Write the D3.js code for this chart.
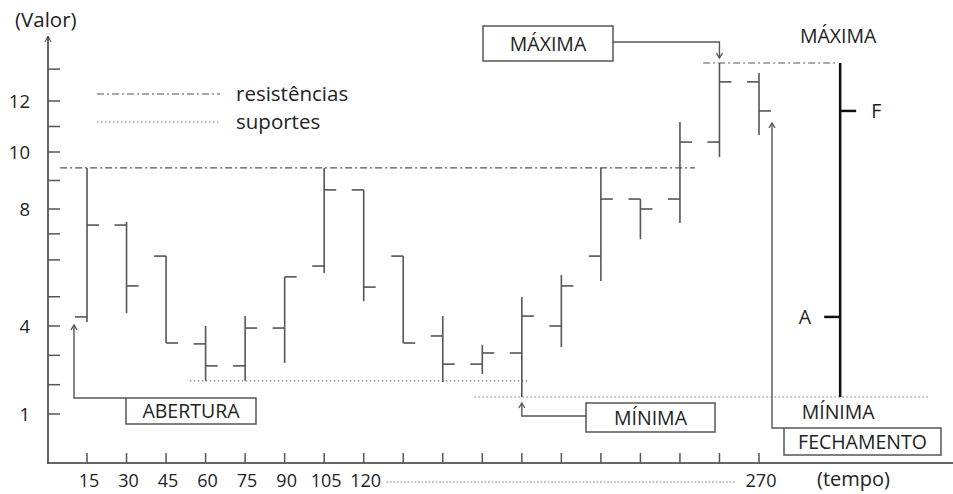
<!DOCTYPE html>
<html>
<head>
<meta charset="utf-8">
<script src="https://cdn.jsdelivr.net/npm/d3@7"></script>
<style>
  body { margin: 0; background: #fff; }
  svg text { font-family: "Open Sans", "DejaVu Sans", sans-serif; fill: #222; }
</style>
</head>
<body>
<div id="chart"></div>
<script>
// Bar chart (OHLC) data
const times  = [15, 30, 45, 60, 75, 90, 105, 120, 135, 150, 165, 180, 195, 210, 225, 240, 255, 270];
const opens  = [4.31, 7.45, 6.39, 3.39, 2.64, 3.93, 6.05, 8.67, 6.39, 3.66, 2.70, 3.08, 4.00, 6.39, 8.35, 8.35, 10.39, 12.75];
const highs  = [9.44, 7.56, 6.39, 4.00, 4.34, 5.68, 9.44, 8.67, 6.39, 4.34, 3.35, 4.99, 5.74, 9.44, 8.35, 11.18, 13.49, 13.10];
const lows   = [4.14, 4.44, 3.42, 2.13, 2.13, 2.74, 5.81, 4.85, 3.42, 2.09, 2.36, 1.58, 3.28, 5.54, 6.97, 7.52, 9.82, 10.67];
const closes = [7.45, 5.37, 3.42, 2.64, 3.93, 5.68, 8.67, 5.33, 3.42, 2.70, 3.08, 4.34, 5.37, 8.35, 8.00, 10.39, 12.75, 11.61];

// axis ticks
const yLabelTicks = [12, 10, 8, 4, 1];
const yMinorTicks = [13.25, 11, 9, 7.15, 6.26, 5, 3, 2];
const xLabelTicks = [15, 30, 45, 60, 75, 90, 105, 120, 270];

// resistance / support levels (value, from time, to time)
const resistances = [[9.44, 4.8, 245.7], [13.49, 248.8, 299.6]];
const supports = [[2.13, 54, 182.5], [1.58, 162, 335]];

// time where the summary bar sits
const summaryTime = 300.8;

const width = 953, height = 494;
const gray = "#555";

const svg = d3.select("#chart").append("svg")
    .attr("width", width).attr("height", height);

// Scales: x linear, y piecewise (schematic axis in the original)
const x = d3.scaleLinear().domain([15, 270]).range([87, 759]);
const y = d3.scaleLinear().domain([1, 4, 8, 10, 12]).range([414, 326, 209, 152, 101]);

const x0 = 48, yBase = 463;

// Axes
const axisG = svg.append("g").attr("stroke", "#333").attr("stroke-width", 1.5).attr("fill", "none");
axisG.append("line").attr("x1", x0).attr("x2", x0).attr("y1", yBase).attr("y2", 37);
axisG.append("path").attr("d", `M${x0 - 3},${42} L${x0},${36} L${x0 + 3},${42}`).attr("stroke-width", 1);
axisG.append("line").attr("x1", x0 - 1).attr("x2", width).attr("y1", yBase).attr("y2", yBase);

// y ticks
axisG.selectAll("line.yt").data(yLabelTicks.concat(yMinorTicks)).enter()
    .append("line").attr("class", "yt")
    .attr("x1", x0).attr("x2", x0 + 12)
    .attr("y1", d => y(d)).attr("y2", d => y(d))
    .attr("stroke", gray);
svg.selectAll("text.yl").data(yLabelTicks).enter()
    .append("text").attr("class", "yl")
    .attr("x", 30).attr("y", d => y(d))
    .attr("dy", "0.36em").attr("text-anchor", "end")
    .attr("font-size", 18.5)
    .text(d => d);

// x ticks
axisG.selectAll("line.xt").data(times).enter()
    .append("line").attr("class", "xt")
    .attr("x1", d => x(d)).attr("x2", d => x(d))
    .attr("y1", yBase).attr("y2", yBase - 10)
    .attr("stroke", gray);
svg.selectAll("text.xl").data(xLabelTicks).enter()
    .append("text").attr("class", "xl")
    .attr("x", d => x(d) + 2).attr("y", 487)
    .attr("text-anchor", "middle").attr("font-size", 18)
    .text(d => d);
svg.append("line")
    .attr("x1", x(120) + 23).attr("x2", x(270) - 23)
    .attr("y1", 482).attr("y2", 482)
    .attr("stroke", "#777").attr("stroke-width", 1).attr("stroke-dasharray", "1.5,2");

svg.append("text").attr("x", 15).attr("y", 27).attr("font-size", 20.5).text("(Valor)");
svg.append("text").attr("x", 817).attr("y", 486).attr("font-size", 20).text("(tempo)");

// Resistance & support lines
const dashDot = "7,3,2,3";
const dotted = "1.5,2.5";
svg.selectAll("line.res").data(resistances).enter()
    .append("line").attr("class", "res")
    .attr("x1", d => x(d[1])).attr("x2", d => x(d[2]))
    .attr("y1", d => y(d[0])).attr("y2", d => y(d[0]))
    .attr("stroke", gray).attr("stroke-width", 1.2).attr("stroke-dasharray", dashDot);
svg.selectAll("line.sup").data(supports).enter()
    .append("line").attr("class", "sup")
    .attr("x1", d => x(d[1])).attr("x2", d => x(d[2]))
    .attr("y1", d => y(d[0])).attr("y2", d => y(d[0]))
    .attr("stroke", "#777").attr("stroke-width", 1.2).attr("stroke-dasharray", dotted);

// Legend
svg.append("line").attr("x1", 97).attr("x2", 220).attr("y1", 94).attr("y2", 94)
    .attr("stroke", gray).attr("stroke-width", 1.2).attr("stroke-dasharray", dashDot);
svg.append("text").attr("x", 236).attr("y", 101).attr("font-size", 20.5).text("resistências");
svg.append("line").attr("x1", 97).attr("x2", 220).attr("y1", 122).attr("y2", 122)
    .attr("stroke", "#777").attr("stroke-width", 1.2).attr("stroke-dasharray", dotted);
svg.append("text").attr("x", 236).attr("y", 129).attr("font-size", 20.5).text("suportes");

// OHLC bars
const bars = times.map((t, i) => ({t: t, o: opens[i], h: highs[i], l: lows[i], c: closes[i]}));
const tickW = 12;
const barG = svg.append("g").attr("stroke", gray).attr("stroke-width", 1.6);
const bar = barG.selectAll("g").data(bars).enter().append("g");
bar.append("line")
    .attr("x1", d => x(d.t)).attr("x2", d => x(d.t))
    .attr("y1", d => y(d.h)).attr("y2", d => y(d.l));
bar.append("line")
    .attr("x1", d => x(d.t) - tickW).attr("x2", d => x(d.t))
    .attr("y1", d => y(d.o)).attr("y2", d => y(d.o));
bar.append("line")
    .attr("x1", d => x(d.t)).attr("x2", d => x(d.t) + tickW)
    .attr("y1", d => y(d.c)).attr("y2", d => y(d.c));

// Summary bar of the whole period
const sum = {o: opens[0], h: d3.max(highs), l: d3.min(lows), c: closes[closes.length - 1]};
const sx = x(summaryTime);
const sumG = svg.append("g").attr("stroke", "#111").attr("stroke-width", 2.5);
sumG.append("line").attr("x1", sx).attr("x2", sx).attr("y1", y(sum.h)).attr("y2", y(sum.l));
sumG.append("line").attr("x1", sx - 16).attr("x2", sx).attr("y1", y(sum.o)).attr("y2", y(sum.o));
sumG.append("line").attr("x1", sx).attr("x2", sx + 16).attr("y1", y(sum.c)).attr("y2", y(sum.c));
svg.append("text").attr("x", sx - 2).attr("y", 43).attr("text-anchor", "middle").attr("font-size", 19.5).text("MÁXIMA");
svg.append("text").attr("x", sx - 2).attr("y", 419).attr("text-anchor", "middle").attr("font-size", 19.5).text("MÍNIMA");
svg.append("text").attr("x", sx + 31).attr("y", y(sum.c)).attr("dy", "0.36em").attr("font-size", 19.5).text("F");
svg.append("text").attr("x", sx - 29).attr("y", y(sum.o)).attr("dy", "0.36em").attr("text-anchor", "end").attr("font-size", 19.5).text("A");

// Annotation boxes with arrows
function box(x1, y1, x2, y2, label) {
    svg.append("rect").attr("x", x1).attr("y", y1).attr("width", x2 - x1).attr("height", y2 - y1)
        .attr("fill", "#fff").attr("stroke", gray).attr("stroke-width", 1.5);
    svg.append("text").attr("x", (x1 + x2) / 2).attr("y", (y1 + y2) / 2).attr("dy", "0.36em")
        .attr("text-anchor", "middle").attr("font-size", 19.5).text(label);
}
function arrow(points, dir) {
    svg.append("path").attr("d", d3.line()(points))
        .attr("fill", "none").attr("stroke", gray).attr("stroke-width", 1.4);
    const [ax, ay] = points[points.length - 1];
    const s = dir === "up" ? 1 : -1;
    svg.append("path").attr("d", `M${ax - 3},${ay + 5 * s} L${ax},${ay} L${ax + 3},${ay + 5 * s}`)
        .attr("fill", "none").attr("stroke", gray).attr("stroke-width", 1.3);
}

// ABERTURA -> open of the first bar
const ax1 = x(times[0]) - tickW - 1;
arrow([[126, 398], [ax1, 398], [ax1, y(opens[0]) + 8]], "up");
box(126, 398, 256, 424, "ABERTURA");

// MÍNIMA -> lowest low
const iMin = d3.minIndex(lows);
arrow([[586, 416], [x(times[iMin]), 416], [x(times[iMin]), y(lows[iMin]) + 6]], "up");
box(586, 403, 715, 432, "MÍNIMA");

// MÁXIMA -> highest high
const iMax = d3.maxIndex(highs);
arrow([[613, 42], [x(times[iMax]), 42], [x(times[iMax]), y(highs[iMax]) - 5]], "down");
box(483, 26, 613, 61, "MÁXIMA");

// FECHAMENTO -> close of the last bar
const fx = x(times[times.length - 1]) + tickW + 1;
arrow([[784, 428], [fx, 428], [fx, y(closes[closes.length - 1]) + 12]], "up");
box(784, 428, 941, 455, "FECHAMENTO");
</script>
</body>
</html>
